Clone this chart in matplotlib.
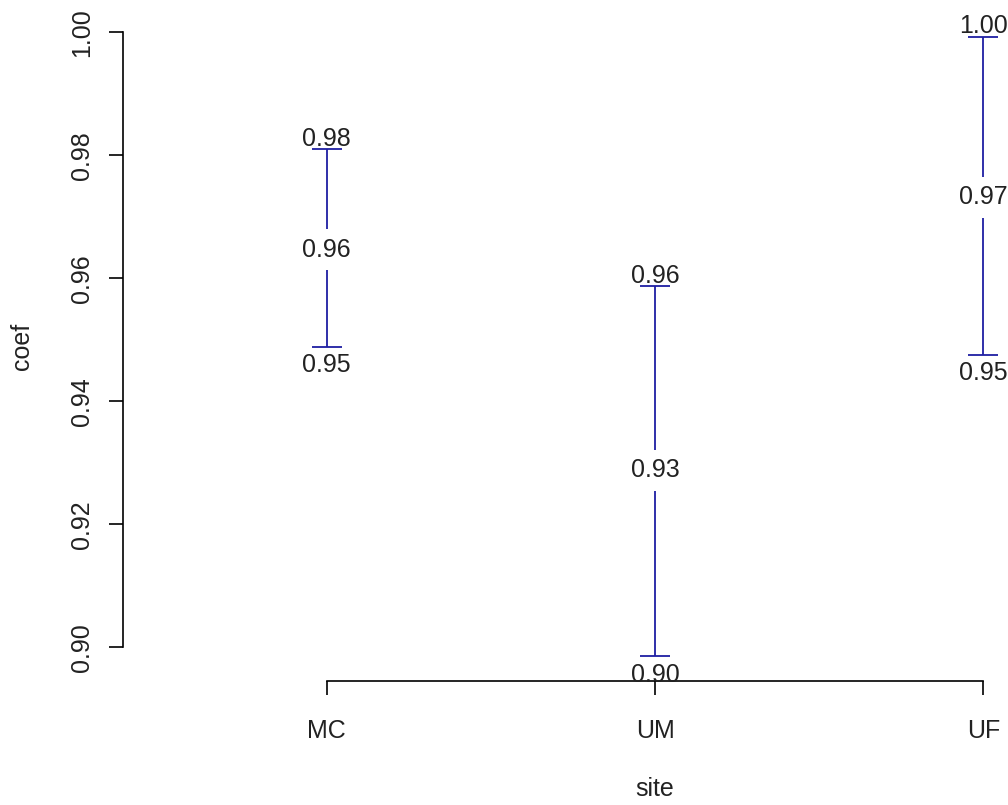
import numpy as np
import matplotlib
matplotlib.use("Agg")
import matplotlib.pyplot as plt

# data
sites = ["MC", "UM", "UF"]
coef = [0.9646, 0.9288, 0.9732]
lower = [0.9489, 0.8985, 0.9475]
upper = [0.9810, 0.9587, 0.9993]
yticks = [0.90, 0.92, 0.94, 0.96, 0.98, 1.00]

plt.rcParams["font.family"] = ["Liberation Sans", "DejaVu Sans"]
fs = 18
col = "#1f1fa3"

W, H = 1008, 805
fig = plt.figure(figsize=(W / 100, H / 100), dpi=100)
# plot region goes past the right edge (picture is cropped on that side)
left, right, top, bottom = 123, 1187, 12, 681
ax = fig.add_axes([left / W, 1 - bottom / H, (right - left) / W, (bottom - top) / H])

x = np.arange(1, len(sites) + 1)
coef = np.array(coef)
lower = np.array(lower)
upper = np.array(upper)

ax.errorbar(x, coef, yerr=[coef - lower, upper - coef], fmt="none",
            ecolor=col, elinewidth=1.3, capsize=10.5, capthick=1.3, zorder=2)

for xi, c, lo, up in zip(x, coef, lower, upper):
    ax.text(xi, c, "%.2f" % c, ha="center", va="center", fontsize=fs,
            color="#222222", zorder=3,
            bbox=dict(boxstyle="square,pad=0.34", fc="white", ec="none"))
    ax.annotate("%.2f" % up, (xi, up), xytext=(0, 2.5), textcoords="offset points",
                ha="center", va="baseline", fontsize=fs, color="#222222", zorder=4)
    ax.annotate("%.2f" % lo, (xi, lo), xytext=(0, -4.5), textcoords="offset points",
                ha="center", va="top", fontsize=fs, color="#222222", zorder=4)

ax.set_xlim(0.38, 3.62)
ax.set_ylim(0.8945, 1.0033)

ax.spines["top"].set_visible(False)
ax.spines["right"].set_visible(False)
ax.spines["left"].set_bounds(0.90, 1.00)
ax.spines["bottom"].set_bounds(1, 3)
for s in ("left", "bottom"):
    ax.spines[s].set_linewidth(1.2)
    ax.spines[s].set_color("black")

ax.set_xticks(x)
ax.set_xticklabels(sites)
ax.set_yticks(yticks)
ax.set_yticklabels(["%.2f" % v for v in yticks], rotation=90, va="center")
ax.tick_params(axis="both", length=10, width=1.2, labelsize=fs, colors="black",
               labelcolor="#222222")
ax.tick_params(axis="x", pad=17)
ax.tick_params(axis="y", pad=11)

fig.text(22 / W, 1 - 346 / H, "coef", rotation=90, ha="center", va="center",
         fontsize=fs, color="#222222")
fig.text(655 / W, 1 - 789 / H, "site", ha="center", va="center",
         fontsize=fs, color="#222222")

fig.savefig("out.png", dpi=100)
